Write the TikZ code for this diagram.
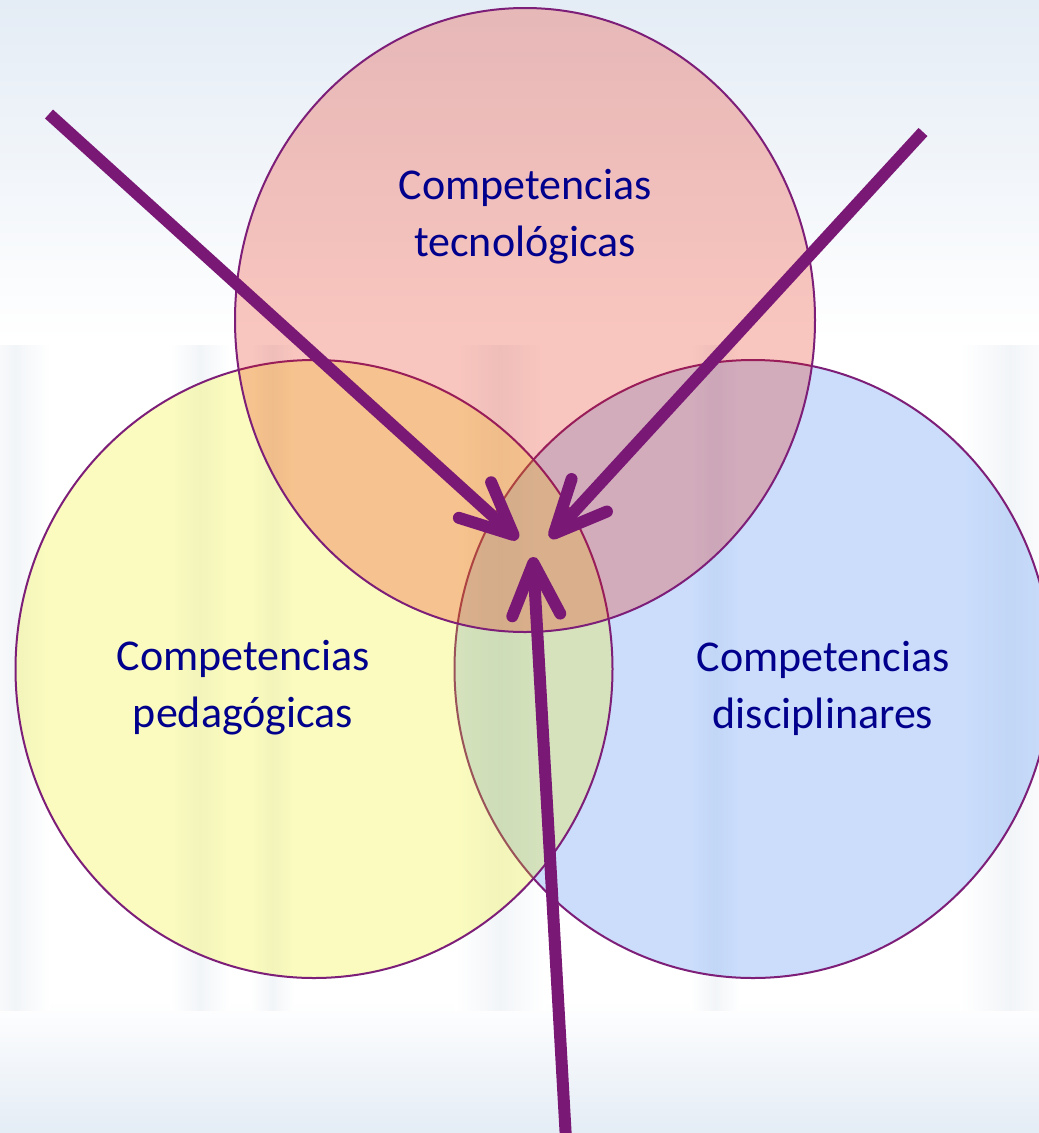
\documentclass[tikz,border=0pt]{standalone}
\usepackage{fontspec}
\setmainfont{Carlito}
\usetikzlibrary{shapes.geometric,arrows.meta}
\definecolor{arrowpurple}{RGB}{122,24,118}
\definecolor{edgepurple}{RGB}{125,30,120}
\definecolor{txtblue}{RGB}{0,0,140}
\definecolor{pinkfill}{RGB}{235,27,0}
\definecolor{yellowfill}{RGB}{243,243,0}
\definecolor{bluefill}{RGB}{51,123,243}
\definecolor{bgblue}{RGB}{228,236,245}
\definecolor{colgray}{RGB}{242,245,248}
\begin{document}
\begin{tikzpicture}[x=1pt,y=-1pt,
  venn/.style={ellipse,draw=edgepurple,line width=2pt,fill opacity=0.25,inner sep=0pt,outer sep=0pt},
  vlabel/.style={text=txtblue,font=\fontsize{44}{57}\selectfont,align=center},
  column/.style={left color=white,right color=white,middle color=colgray},
  bigarrow/.style={draw=arrowpurple,line width=12pt,-{Straight Barb[length=52pt,width=48pt,line cap=round,line join=round]}}
]
\useasboundingbox (0,0) rectangle (1039,1133);
% background
\fill[white] (0,0) rectangle (1039,1133);
\shade[top color=bgblue,bottom color=white] (0,0) rectangle (1039,340);
\shade[top color=white,bottom color=bgblue] (0,1000) rectangle (1039,1133);
\shade[column] (-20,345) rectangle (50,1010);
\shade[column] (170,345) rectangle (230,1010);
\shade[column] (250,345) rectangle (295,1010);
\shade[column] (455,345) rectangle (545,1010);
\shade[column] (690,345) rectangle (740,1010);
\shade[column] (960,345) rectangle (1060,1010);
% circles
\node[venn,fill=bluefill,minimum width=597pt,minimum height=618pt] (dis) at (753,669) {};
\node[venn,fill=yellowfill,minimum width=597pt,minimum height=618pt] (ped) at (314,669) {};
\node[venn,fill=pinkfill,minimum width=580pt,minimum height=624pt] (tec) at (525,320) {};
% labels
\node[vlabel] (ttec) at (525,217) {Competencias\\tecnológicas};
\node[vlabel] (tped) at (243,688) {Competencias\\pedagógicas};
\node[vlabel] (tdis) at (823,688) {Competencias\\disciplinares};
% arrows
\coordinate (s1) at (49,114);
\coordinate (t1) at (518,539);
\coordinate (s2) at (923,132);
\coordinate (t2) at (550,538);
\coordinate (s3) at (566,1140);
\coordinate (t3) at (533,557);
\draw[bigarrow] (s1) -- (t1);
\draw[bigarrow] (s2) -- (t2);
\draw[bigarrow] (s3) -- (t3);
\end{tikzpicture}
\end{document}
